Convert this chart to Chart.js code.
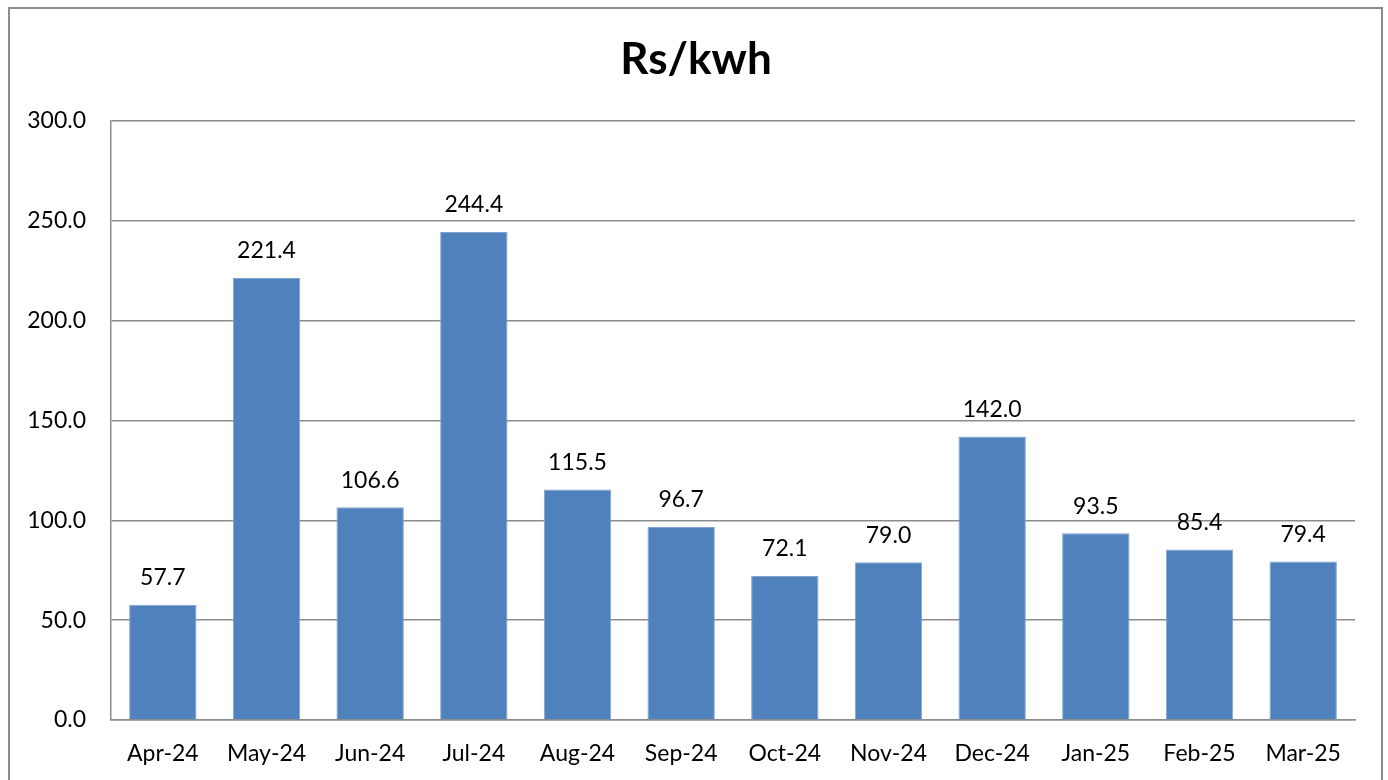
<!DOCTYPE html>
<html>
<head>
<meta charset="utf-8">
<script src="https://cdn.jsdelivr.net/npm/chart.js@4"></script>
<style>
  html, body { margin: 0; padding: 0; background: #fff; }
  #wrap { width: 1388px; height: 780px; position: relative; }
</style>
</head>
<body>
<div id="wrap"><canvas id="myChart" width="1388" height="780"></canvas></div>
<script>
const months = ["Apr-24", "May-24", "Jun-24", "Jul-24", "Aug-24", "Sep-24",
    "Oct-24", "Nov-24", "Dec-24", "Jan-25", "Feb-25", "Mar-25"];
const rates = [57.7, 221.4, 106.6, 244.4, 115.5, 96.7, 72.1, 79.0, 142.0, 93.5, 85.4, 79.4];
const yTicks = [0, 50, 100, 150, 200, 250, 300];
const chartTitle = "Rs/kwh";

const FONT = "Lato, 'Open Sans', sans-serif";

// outer frame and the title, centred on the frame rather than the plot
const framePlugin = {
    id: "frame",
    beforeDraw(chart) {
        const c = chart.ctx;
        c.save();
        c.strokeStyle = "#8c8c8c";
        c.lineWidth = 2;
        c.strokeRect(9, 8, 1373, 800);
        c.font = "bold 44px " + FONT;
        c.fillStyle = "#000";
        c.textAlign = "center";
        c.textBaseline = "middle";
        c.fillText(chartTitle, 696, 60);
        c.restore();
    },
};

// value labels above each bar
const valueLabels = {
    id: "valueLabels",
    afterDatasetsDraw(chart) {
        const c = chart.ctx;
        const meta = chart.getDatasetMeta(0);
        c.save();
        c.font = "23px " + FONT;
        c.fillStyle = "#000";
        c.textAlign = "center";
        c.textBaseline = "middle";
        meta.data.forEach((bar, i) => {
            c.fillText(rates[i].toFixed(1), bar.x, bar.y - 27);
        });
        c.restore();
    },
};

const ctx = document.getElementById("myChart");
const myChart = new Chart(ctx, {
    type: "bar",
    data: {
        labels: months,
        datasets: [{
            label: chartTitle,
            data: rates,
            backgroundColor: "#4F81BD",
            borderColor: "#7FA3D3",
            borderWidth: 1,
            categoryPercentage: 1.0,
            barPercentage: 0.65,
        }, ],
    },
    options: {
        responsive: false,
        animation: false,
        layout: {
            padding: { left: 0, right: 33, top: 121, bottom: 0 },
        },
        plugins: {
            legend: { display: false },
            tooltip: { enabled: false },
            title: { display: false },
        },
        scales: {
            x: {
                grid: { display: false, drawTicks: false },
                border: { display: true, color: "#8c8c8c", width: 1.5 },
                ticks: {
                    color: "#000",
                    font: { family: FONT, size: 23 },
                    padding: 20,
                    maxRotation: 0,
                    autoSkip: false,
                },
                afterFit(scale) { scale.height = 60; },
            },
            y: {
                min: 0,
                max: 300,
                afterBuildTicks(scale) {
                    scale.ticks = yTicks.map(v => ({ value: v }));
                },
                grid: { color: "#8c8c8c", lineWidth: 1.5, drawTicks: false },
                border: { display: true, color: "#8c8c8c", width: 1.5 },
                ticks: {
                    color: "#000",
                    font: { family: FONT, size: 23 },
                    padding: 25,
                    callback: v => v.toFixed(1),
                },
                afterFit(scale) { scale.width = 111; },
            },
        },
    },
    plugins: [framePlugin, valueLabels],
});
</script>
</body>
</html>
